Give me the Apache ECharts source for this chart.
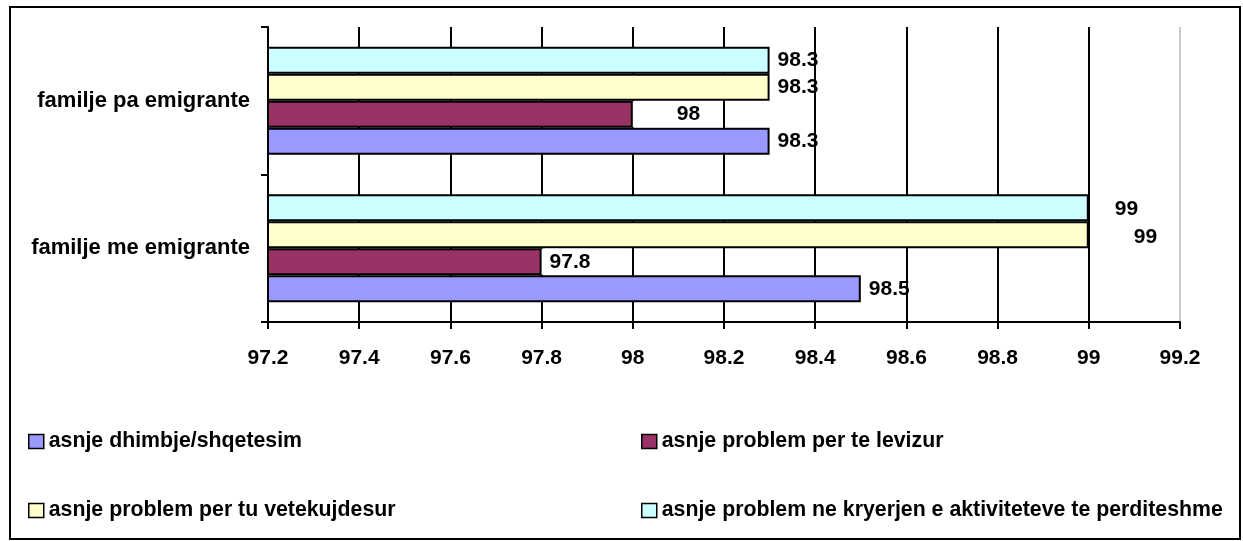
<!DOCTYPE html>
<html>
<head>
<meta charset="utf-8">
<script src="https://cdn.jsdelivr.net/npm/echarts@6/dist/echarts.min.js"></script>
<style>
  html, body { margin: 0; padding: 0; background: #fff; overflow: hidden; }
  #frame { position: absolute; left: 9px; top: 6px; width: 1232px; height: 534px; border: 2px solid #000; box-sizing: border-box; }
  #chart { position: absolute; left: 0; top: 0; width: 1243px; height: 541px; }
</style>
</head>
<body>
<div id="frame"></div>
<div id="chart"></div>
<script>
const categories = ['familje me emigrante', 'familje pa emigrante'];
const seriesNames = [
  'asnje dhimbje/shqetesim',
  'asnje problem per te levizur',
  'asnje problem per tu vetekujdesur',
  'asnje problem ne kryerjen e aktiviteteve te perditeshme'
];
const dhimbje = [98.5, 98.3];
const levizur = [97.8, 98];
const vetekujdesur = [99, 98.3];
const aktivitete = [99, 98.3];
const xTicks = [97.2, 97.4, 97.6, 97.8, 98, 98.2, 98.4, 98.6, 98.8, 99, 99.2];

const colors = ['#9999FF', '#993366', '#FFFFCC', '#CCFFFF'];
const FONT = '"Liberation Sans", Arial, sans-serif';
const values = [dhimbje, levizur, vetekujdesur, aktivitete];

const baseLabel = {
  show: true, position: 'right', distance: 8,
  color: '#000', fontWeight: 'bold', fontSize: 21, fontFamily: FONT
};

function labelFor(si, ci) {
  if (si === 1) {
    return ci === 0
      ? { backgroundColor: '#fff', distance: 0, padding: [0, 0, 0, 8], width: 82, height: 26, lineHeight: 26 }
      : { backgroundColor: '#fff', distance: 0, padding: [0, 0, 0, 44], width: 46, height: 26, lineHeight: 26 };
  }
  if (si === 3 && ci === 0) return { distance: 5, offset: [21, 1] };
  if (si === 2 && ci === 0) return { distance: 5, offset: [40, 2] };
  return {};
}

// ECharts lays out horizontal bar series top-down, so draw in reverse to
// get the first series at the bottom of each group, as in the reference.
const series = values.map((arr, si) => ({
  name: seriesNames[si],
  type: 'bar',
  barWidth: 27,
  barGap: '0%',
  itemStyle: { color: colors[si], borderColor: '#000', borderWidth: 2 },
  label: baseLabel,
  data: arr.map((v, ci) => ({ value: v, label: labelFor(si, ci) }))
})).reverse();

const splitColors = xTicks.map((t, i) => i === xTicks.length - 1 ? '#c8c8c8' : '#000');

const legendPos = [
  { left: 23, top: 426 },
  { left: 636, top: 426 },
  { left: 23, top: 495 },
  { left: 636, top: 495 }
];

const chart = echarts.init(document.getElementById('chart'), null, { renderer: 'canvas' });
chart.setOption({
  backgroundColor: 'transparent',
  animation: false,
  grid: { left: 268, right: 63, top: 27, bottom: 219, containLabel: false },
  xAxis: {
    type: 'value',
    min: xTicks[0], max: xTicks[xTicks.length - 1], interval: 0.2,
    axisLine: { show: true, lineStyle: { color: '#000', width: 2 } },
    axisTick: { show: true, length: 7, lineStyle: { color: '#000', width: 2 } },
    axisLabel: {
      margin: 26, color: '#000', fontWeight: 'bold', fontSize: 21, fontFamily: FONT,
      formatter: v => String(parseFloat(v.toFixed(1)))
    },
    splitLine: { show: true, lineStyle: { color: splitColors, width: 2 } }
  },
  yAxis: {
    type: 'category',
    data: categories,
    axisLine: { show: true, lineStyle: { color: '#000', width: 2 } },
    axisTick: { show: true, length: 7, lineStyle: { color: '#000', width: 2 } },
    axisLabel: { margin: 18, color: '#000', fontWeight: 'bold', fontSize: 22, fontFamily: FONT },
    splitLine: { show: false }
  },
  legend: seriesNames.map((n, i) => ({
    data: [n],
    left: legendPos[i].left, top: legendPos[i].top,
    itemWidth: 15, itemHeight: 14,
    icon: 'rect',
    itemStyle: { borderColor: '#000', borderWidth: 1.5 },
    textStyle: { color: '#000', fontWeight: 'bold', fontSize: 21.3, fontFamily: FONT },
    selectedMode: false
  })),
  series: series
});
</script>
</body>
</html>
